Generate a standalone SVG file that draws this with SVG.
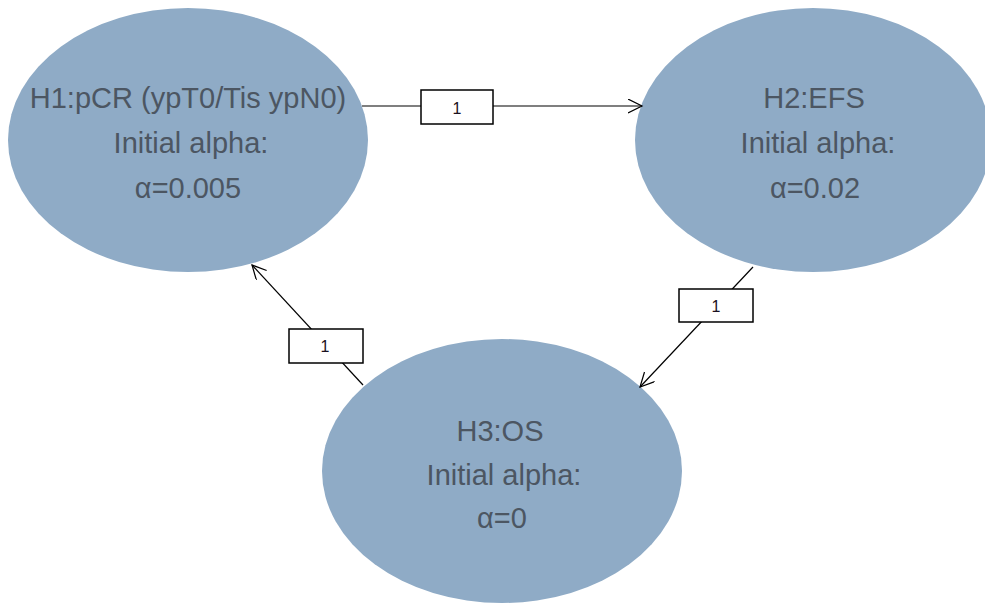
<svg xmlns="http://www.w3.org/2000/svg" width="985" height="603" viewBox="0 0 985 603">
<defs>
<style>
.node{fill:#8fabc6;stroke:none}
.nt{font-family:"Liberation Sans",Arial,sans-serif;font-size:29px;fill:#4c5662;text-anchor:middle}
.edge{stroke:#000;stroke-width:1.2;fill:none}
.lbl{fill:#fff;stroke:#000;stroke-width:1.5}
.lt{font-family:"Liberation Sans",Arial,sans-serif;font-size:16px;fill:#1a1020;text-anchor:middle}
</style>
<marker id="arr" markerUnits="userSpaceOnUse" markerWidth="16" markerHeight="16" refX="14" refY="7" orient="auto">
<path d="M0,0 L14,7 L0,14" fill="none" stroke="#000" stroke-width="1.2"/>
</marker>
</defs>
<rect width="985" height="603" fill="#fff"/>
<g id="H1">
<ellipse class="node" cx="188" cy="140" rx="180" ry="132"/>
<text class="nt" x="188" y="108">H1:pCR (ypT0/Tis ypN0)</text>
<text class="nt" x="191" y="153">Initial alpha:</text>
<text class="nt" x="188" y="198">α=0.005</text>
</g>
<g id="H2">
<ellipse class="node" cx="813" cy="140" rx="178" ry="132"/>
<text class="nt" x="814" y="108">H2:EFS</text>
<text class="nt" x="818" y="153">Initial alpha:</text>
<text class="nt" x="815" y="198">α=0.02</text>
</g>
<g id="H3">
<ellipse class="node" cx="502" cy="471" rx="180" ry="132"/>
<text class="nt" x="500" y="441">H3:OS</text>
<text class="nt" x="504" y="485">Initial alpha:</text>
<text class="nt" x="502" y="528">α=0</text>
</g>
<g id="connectors">
<line class="edge" x1="362" y1="106" x2="642" y2="106" stroke-width="1.5" marker-end="url(#arr)"/>
<line class="edge" x1="753" y1="267" x2="640" y2="387" marker-end="url(#arr)"/>
<line class="edge" x1="363" y1="385" x2="252" y2="265" marker-end="url(#arr)"/>
<rect class="lbl" x="421" y="90" width="72" height="34"/>
<text class="lt" x="457" y="114">1</text>
<rect class="lbl" x="679" y="289" width="74" height="33"/>
<text class="lt" x="716" y="312">1</text>
<rect class="lbl" x="289" y="329" width="74" height="34"/>
<text class="lt" x="325" y="352">1</text>
</g>
</svg>
